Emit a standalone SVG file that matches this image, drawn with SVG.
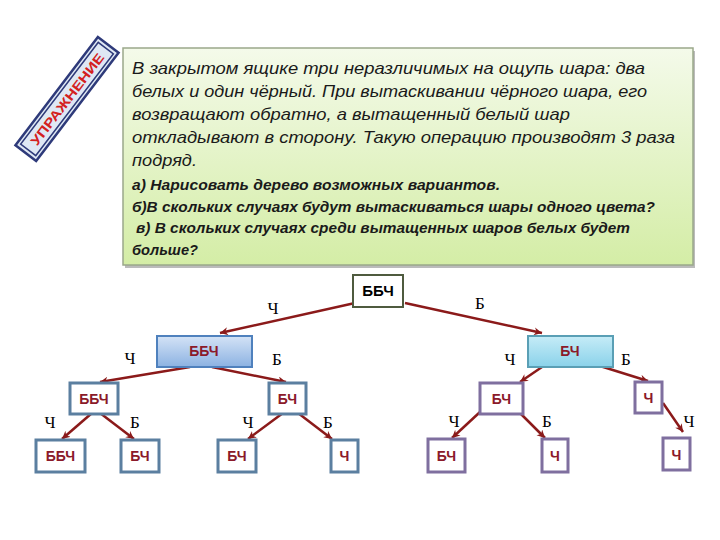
<svg xmlns="http://www.w3.org/2000/svg" width="720" height="540" viewBox="0 0 720 540">
<defs>
<linearGradient id="gBox" x1="0" y1="0" x2="0" y2="1"><stop offset="0" stop-color="#f4faea"/><stop offset="1" stop-color="#d4eda6"/></linearGradient>
<linearGradient id="gBlue" x1="0" y1="0" x2="0" y2="1"><stop offset="0" stop-color="#d4e3f6"/><stop offset="1" stop-color="#8cb2e2"/></linearGradient>
<linearGradient id="gCyan" x1="0" y1="0" x2="0" y2="1"><stop offset="0" stop-color="#c6ecf7"/><stop offset="1" stop-color="#8ad2ea"/></linearGradient>
<marker id="ah" markerWidth="10" markerHeight="10" refX="8" refY="4" orient="auto" markerUnits="userSpaceOnUse">
<path d="M0,0 L8,4 L0,8 L2.5,4 Z" fill="#8b1a1a"/>
</marker>
</defs>
<style>
.task{font-family:"Liberation Sans",Arial,sans-serif;font-style:italic;font-size:17px;fill:#1a1a1a}
.q{font-family:"Liberation Sans",Arial,sans-serif;font-style:italic;font-weight:bold;font-size:14px;fill:#1a1a1a}
.lbl{font-family:"Liberation Serif","Times New Roman",serif;font-size:17px;fill:#000;text-anchor:middle}
.nt{font-family:"Liberation Sans",Arial,sans-serif;font-weight:bold;font-size:14px;fill:#8b1a2a;text-anchor:middle}
.a{stroke:#8b1a1a;stroke-width:2.5;fill:none;marker-end:url(#ah)}
.bl{fill:#fff;stroke:#5b7fa0;stroke-width:3}
.pu{fill:#fff;stroke:#7f6f9f;stroke-width:3}
</style>
<rect width="720" height="540" fill="#fff"/>
<g id="task">
<rect x="125" y="51" width="570" height="217" fill="#bbbbbb"/>
<rect x="123" y="48" width="570" height="217" fill="url(#gBox)" stroke="#9aa88a" stroke-width="1.5"/>
<text class="task" x="132" y="74" textLength="513" lengthAdjust="spacingAndGlyphs">В закрытом  ящике три неразличимых на ощупь шара: два</text>
<text class="task" x="132" y="97" textLength="515" lengthAdjust="spacingAndGlyphs">белых и один чёрный. При вытаскивании чёрного шара, его</text>
<text class="task" x="132" y="120" textLength="438" lengthAdjust="spacingAndGlyphs">возвращают обратно, а вытащенный белый шар</text>
<text class="task" x="132" y="143" textLength="543" lengthAdjust="spacingAndGlyphs">откладывают в сторону. Такую операцию производят 3 раза</text>
<text class="task" x="132" y="166" textLength="65" lengthAdjust="spacingAndGlyphs">подряд.</text>
<text class="q" x="132" y="190" textLength="368" lengthAdjust="spacingAndGlyphs">а) Нарисовать дерево возможных вариантов.</text>
<text class="q" x="132" y="212" textLength="523" lengthAdjust="spacingAndGlyphs">б)В скольких случаях будут вытаскиваться шары одного цвета?</text>
<text class="q" x="136" y="233" textLength="494" lengthAdjust="spacingAndGlyphs">в) В скольких случаях среди вытащенных шаров белых будет</text>
<text class="q" x="132" y="255" textLength="66" lengthAdjust="spacingAndGlyphs">больше?</text>
</g>
<g id="stamp" transform="translate(67,99) rotate(-52.7)">
<rect x="-68" y="-13" width="136" height="26" fill="#dfe8f4" stroke="#2e3a7a" stroke-width="2.5"/>
<rect x="-64" y="-9.5" width="128" height="19" fill="none" stroke="#2e3a7a" stroke-width="1.5"/>
<text x="0" y="5" text-anchor="middle" font-family="Liberation Sans,Arial,sans-serif" font-weight="bold" font-size="13" fill="#d42020" textLength="112" lengthAdjust="spacingAndGlyphs">УПРАЖНЕНИЕ</text>
</g>
<g id="connectors">
<line class="a" x1="355" y1="303" x2="220" y2="333"/>
<line class="a" x1="405" y1="303" x2="542" y2="333"/>
<line class="a" x1="190" y1="367" x2="100" y2="382"/>
<line class="a" x1="212" y1="367" x2="286" y2="382"/>
<line class="a" x1="542" y1="367" x2="520" y2="382"/>
<line class="a" x1="600" y1="366" x2="648" y2="381"/>
<line class="a" x1="92" y1="413" x2="62" y2="439"/>
<line class="a" x1="100" y1="413" x2="134" y2="439"/>
<line class="a" x1="283" y1="413" x2="248" y2="439"/>
<line class="a" x1="298" y1="413" x2="332" y2="439"/>
<line class="a" x1="480" y1="412" x2="452" y2="438"/>
<line class="a" x1="519" y1="412" x2="545" y2="438"/>
<line class="a" x1="663" y1="403" x2="683" y2="432"/>
</g>
<g id="labels">
<text class="lbl" x="273" y="314">Ч</text>
<text class="lbl" x="480" y="309">Б</text>
<text class="lbl" x="130" y="364">Ч</text>
<text class="lbl" x="277" y="365">Б</text>
<text class="lbl" x="510" y="365">Ч</text>
<text class="lbl" x="626" y="365">Б</text>
<text class="lbl" x="50" y="428">Ч</text>
<text class="lbl" x="135" y="428">Б</text>
<text class="lbl" x="248" y="428">Ч</text>
<text class="lbl" x="328" y="428">Б</text>
<text class="lbl" x="454" y="427">Ч</text>
<text class="lbl" x="547" y="427">Б</text>
<text class="lbl" x="689" y="427">Ч</text>
</g>
<g id="root"><rect x="353" y="275" width="50" height="32" fill="#fff" stroke="#4f5b3f" stroke-width="2"/><text x="378" y="296" text-anchor="middle" font-family="Liberation Sans,Arial,sans-serif" font-weight="bold" font-size="15" fill="#000">ББЧ</text></g>
<g id="n1L"><rect x="157" y="336" width="95" height="31" fill="url(#gBlue)" stroke="#4f81bd" stroke-width="2"/><text class="nt" x="204" y="356">ББЧ</text></g>
<g id="n1R"><rect x="528" y="336" width="85" height="31" fill="url(#gCyan)" stroke="#5a9fb5" stroke-width="2"/><text class="nt" x="570" y="356">БЧ</text></g>
<g id="n2a"><rect class="bl" x="70" y="383" width="48" height="31"/><text class="nt" x="94" y="404" font-size="15">ББЧ</text></g>
<g id="n2b"><rect class="bl" x="269" y="383" width="37" height="31"/><text class="nt" x="287.5" y="404" font-size="15">БЧ</text></g>
<g id="n2c"><rect class="pu" x="480" y="383" width="43" height="31"/><text class="nt" x="501.5" y="404" font-size="15">БЧ</text></g>
<g id="n2d"><rect class="pu" x="635" y="382" width="27" height="31"/><text class="nt" x="648.5" y="403" font-size="15">Ч</text></g>
<g id="n3a"><rect class="bl" x="36" y="440" width="49" height="32"/><text class="nt" x="60.5" y="461" font-size="15">ББЧ</text></g>
<g id="n3b"><rect class="bl" x="121" y="440" width="38" height="32"/><text class="nt" x="140" y="461" font-size="15">БЧ</text></g>
<g id="n3c"><rect class="bl" x="218" y="440" width="38" height="32"/><text class="nt" x="237" y="461" font-size="15">БЧ</text></g>
<g id="n3d"><rect class="bl" x="331" y="440" width="27" height="32"/><text class="nt" x="344.5" y="461" font-size="15">Ч</text></g>
<g id="n3e"><rect class="pu" x="428" y="439" width="37" height="33"/><text class="nt" x="446.5" y="461" font-size="15">БЧ</text></g>
<g id="n3f"><rect class="pu" x="542" y="439" width="26" height="33"/><text class="nt" x="555" y="461" font-size="15">Ч</text></g>
<g id="n3g"><rect class="pu" x="663" y="438" width="27" height="32"/><text class="nt" x="676.5" y="460" font-size="15">Ч</text></g>
</svg>
